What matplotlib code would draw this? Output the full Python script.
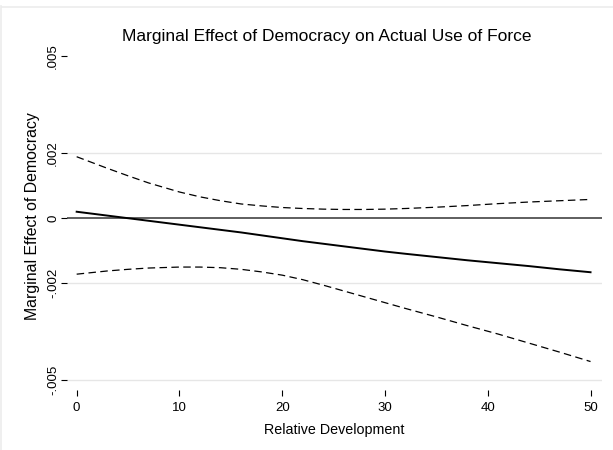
import matplotlib
matplotlib.use("Agg")
import matplotlib.pyplot as plt
from matplotlib.lines import Line2D

plt.rcParams['font.family'] = ['Liberation Sans', 'DejaVu Sans']

# values
dev = [0, 3, 5, 7, 10, 12, 14, 16, 18, 20, 22, 24, 26, 28, 30, 32, 35, 38, 41, 44, 47, 50]
effect = [0.00020, 0.00008, 0.00000, -0.00008, -0.00020, -0.00028, -0.00036, -0.00044,
          -0.00053, -0.00062, -0.00071, -0.00079, -0.00087, -0.00095, -0.00103, -0.00110,
          -0.00120, -0.00130, -0.00139, -0.00148, -0.00158, -0.00167]
upper = [0.00190, 0.00154, 0.00131, 0.00109, 0.00081, 0.00066, 0.00054, 0.00044,
         0.00038, 0.00033, 0.00030, 0.00028, 0.00027, 0.00027, 0.00028, 0.00030,
         0.00034, 0.00039, 0.00045, 0.00050, 0.00054, 0.00058]
lower = [-0.00173, -0.00163, -0.00158, -0.00154, -0.00151, -0.00151, -0.00153, -0.00158,
         -0.00166, -0.00176, -0.00190, -0.00207, -0.00225, -0.00243, -0.00261, -0.00279,
         -0.00305, -0.00332, -0.00358, -0.00386, -0.00414, -0.00443]

yticks = [-0.005, -0.002, 0, 0.002, 0.005]
ytick_labels = ["-.005", "-.002", "0", ".002", ".005"]
xticks = [0, 10, 20, 30, 40, 50]

fig = plt.figure(figsize=(6.13, 4.5), dpi=100)
ax = fig.add_axes([0.1088, 0.152, 0.873, 0.737])

# light grid + zero line
for g in [-0.005, -0.002, 0.002]:
    ax.axhline(g, color="#e6e6e6", lw=1.0, zorder=1)
ax.axhline(0, color="#333333", lw=1.1, zorder=2)

dash = (0, (6, 3.5))
ax.plot(dev, upper, color="black", lw=0.9, linestyle=dash, zorder=3)
ax.plot(dev, lower, color="black", lw=0.9, linestyle=dash, zorder=3)
ax.plot(dev, effect, color="black", lw=1.4, zorder=4)

ax.set_xlim(-0.97, 51.1)
ax.set_ylim(-0.00505, 0.0052)

for s in ax.spines.values():
    s.set_visible(False)
# x ticks sit a little below the plot region
ax.spines["bottom"].set_position(("outward", 6))

ax.set_yticks(yticks)
ax.set_yticklabels(ytick_labels, rotation=90, va="center")
ax.set_xticks(xticks)
ax.tick_params(axis="y", length=4.5, width=0.8, pad=1, labelsize=9.5)
ax.tick_params(axis="x", length=4.5, width=0.8, pad=4.5, labelsize=9.5)

ax.set_xlabel("Relative Development", fontsize=10.3, labelpad=6)
ax.set_ylabel("Marginal Effect of Democracy", fontsize=11.4, labelpad=5)

fig.text(326.5 / 613, 1 - 36 / 450, "Marginal Effect of Democracy on Actual Use of Force",
         ha="center", va="center", fontsize=12.5)

# faint outer frame
fig.add_artist(Line2D([2 / 613, 1], [1 - 7 / 450] * 2, color="#ececec", lw=1.2))
fig.add_artist(Line2D([1.5 / 613] * 2, [0, 1 - 6 / 450], color="#ececec", lw=1.2))

fig.savefig("out.png", dpi=100, facecolor="white")
